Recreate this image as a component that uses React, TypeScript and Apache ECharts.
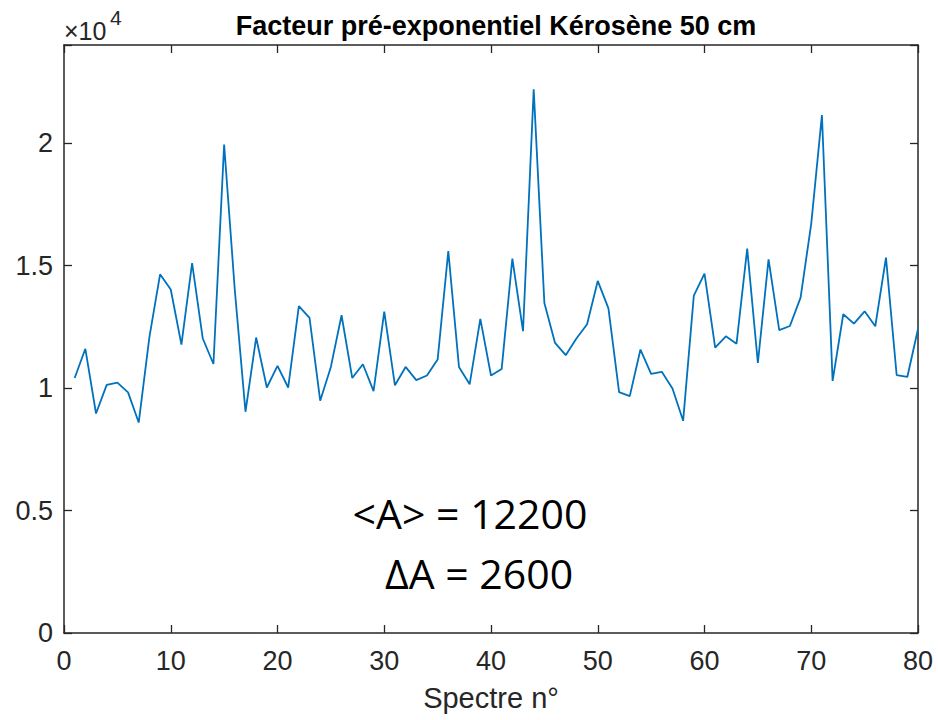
import React, { useEffect, useRef } from "react";
import * as echarts from "echarts";

const spectra: number[] = Array.from({ length: 80 }, (_, i) => i + 1);
const facteurA: number[] = [
  10410, 11600, 8960, 10130, 10220, 9820, 8590, 12080, 14640, 14020,
  11770, 15100, 12020, 10980, 19940, 14000, 9030, 12060, 10020, 10900,
  10020, 13340, 12860, 9480, 10860, 12970, 10410, 10970, 9870, 13120,
  10110, 10860, 10320, 10510, 11160, 15590, 10860, 10150, 12820, 10510,
  10780, 15280, 12320, 22190, 13470, 11840, 11340, 12020, 12600, 14370,
  13250, 9830, 9670, 11570, 10580, 10660, 9980, 8660, 13770, 14670,
  11650, 12110, 11810, 15690, 11020, 15250, 12360, 12530, 13690, 16710,
  21140, 10290, 13010, 12630, 13130, 12520, 15320, 10530, 10450, 12410,
];
const titleText = "Facteur pré-exponentiel Kérosène 50 cm";
const xLabel = "Spectre n°";
const statLines = ["<A> = 12200", "ΔA = 2600"];

const FONT = "'Liberation Sans', Arial, Helvetica, sans-serif";
const AX = "#262626";

export default function App() {
  const ref = useRef<HTMLDivElement>(null);
  useEffect(() => {
    if (!ref.current) return;
    const chart = echarts.init(ref.current, undefined, { renderer: "svg" });
    const data = spectra.map((x, i) => [x, facteurA[i]]);
    const axisLine = { show: true, onZero: false, lineStyle: { color: AX, width: 1.5 } };
    const axisTick = { show: true, inside: true, length: 8, lineStyle: { color: AX, width: 1.3 } };
    chart.setOption({
      animation: false,
      backgroundColor: "#ffffff",
      title: {
        text: titleText,
        left: 491,
        top: 7,
        textAlign: "center",
        textStyle: { fontFamily: FONT, fontWeight: "bold", fontSize: 27, color: "#000" },
      },
      grid: { left: 64, right: 20, top: 45, bottom: 87, containLabel: false },
      xAxis: [
        {
          type: "value",
          min: 0,
          max: 80,
          interval: 10,
          position: "bottom",
          name: xLabel,
          nameLocation: "middle",
          nameGap: 50,
          nameTextStyle: { fontFamily: FONT, fontSize: 29, color: AX },
          axisLine,
          axisTick,
          splitLine: { show: false },
          axisLabel: { fontFamily: FONT, fontSize: 27, color: AX, margin: 14 },
        },
        {
          type: "value",
          min: 0,
          max: 80,
          interval: 10,
          position: "top",
          axisLine,
          axisTick,
          splitLine: { show: false },
          axisLabel: { show: false },
        },
      ],
      yAxis: [
        {
          type: "value",
          min: 0,
          max: 24000,
          interval: 5000,
          position: "left",
          axisLine,
          axisTick,
          splitLine: { show: false },
          axisLabel: {
            fontFamily: FONT,
            fontSize: 27,
            color: AX,
            margin: 11,
            formatter: (v: number) => (v % 5000 !== 0 ? "" : String(v / 10000)),
          },
        },
        {
          type: "value",
          min: 0,
          max: 24000,
          interval: 5000,
          position: "right",
          axisLine,
          axisTick,
          splitLine: { show: false },
          axisLabel: { show: false },
        },
      ],
      graphic: [
        {
          type: "text",
          left: 64,
          top: 18,
          style: { text: "×10", fontFamily: FONT, fontSize: 25, fill: AX },
        },
        {
          type: "text",
          left: 110,
          top: 7,
          style: { text: "4", fontFamily: FONT, fontSize: 21, fill: AX },
        },
        {
          type: "text",
          x: 470,
          y: 513,
          style: {
            text: statLines[0],
            fontFamily: "'Open Sans', 'Noto Sans', sans-serif",
            fontSize: 41,
            fill: "#000",
            align: "center",
            verticalAlign: "middle",
          },
        },
        {
          type: "text",
          x: 479,
          y: 573,
          style: {
            text: statLines[1],
            fontFamily: "'Open Sans', 'Noto Sans', sans-serif",
            fontSize: 41,
            fill: "#000",
            align: "center",
            verticalAlign: "middle",
          },
        },
      ],
      series: [
        {
          type: "line",
          xAxisIndex: 0,
          yAxisIndex: 0,
          data,
          showSymbol: false,
          symbol: "none",
          lineStyle: { color: "#0072BD", width: 1.8 },
          clip: true,
        },
      ],
    });
    return () => chart.dispose();
  }, []);
  return (
    <div
      ref={ref}
      style={{ position: "fixed", left: 0, top: 0, width: 938, height: 720, background: "#fff" }}
    />
  );
}
